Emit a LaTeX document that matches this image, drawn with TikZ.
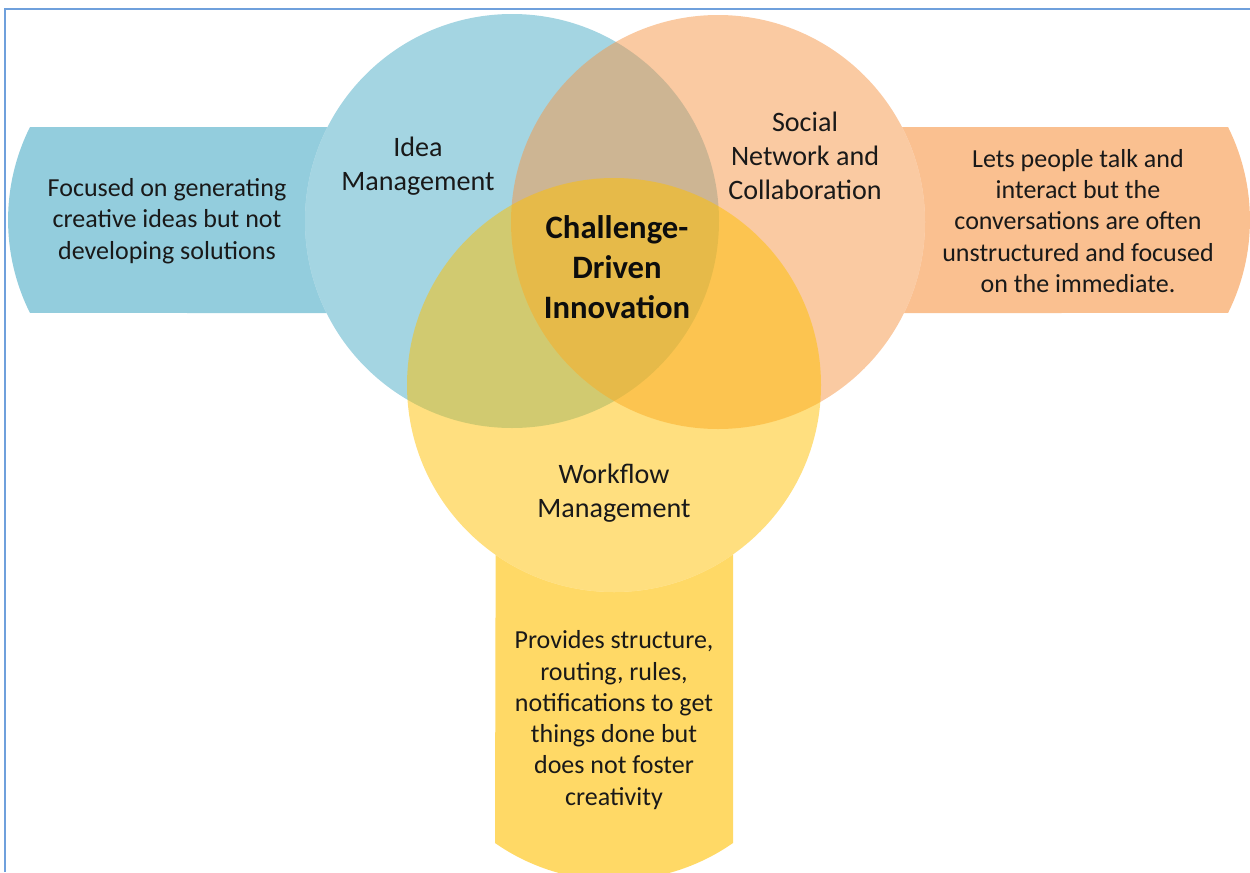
\documentclass[tikz,border=0pt]{standalone}
\usepackage{fontspec}
\setmainfont{Carlito}
\usepackage{xcolor}

\definecolor{ideablue}{RGB}{75,172,198}
\definecolor{socialorange}{RGB}{247,150,70}
\definecolor{flowgold}{RGB}{255,192,0}
\definecolor{framblue}{RGB}{111,160,220}

\begin{document}
\begin{tikzpicture}[x=0.02cm, y=-0.02cm,
  circ/.style={fill opacity=0.5},
  label/.style={align=center, text=black!90,
              font=\fontsize{16}{19.4}\selectfont},
  note/.style={align=center, text=black!90,
              font=\fontsize{14.8}{17.8}\selectfont},
  core/.style={align=center, text=black!95,
              font=\fontsize{18.6}{22.8}\selectfont\bfseries}
]
  \useasboundingbox (0,0) rectangle (1250,872);
  \clip (0,0) rectangle (1250,872);

  % frame
  \draw[framblue, line width=1.2pt] (5,872) -- (5,9) -- (1250,9);

  % side tabs behind the circles
  \fill[ideablue!60] (512,127) -- (30,127)
    arc[start angle=206.56, end angle=153.44, radius=208] -- (512,313) -- cycle;
  \fill[socialorange!60] (718,127) -- (1228,127)
    arc[start angle=-26.56, end angle=26.56, radius=208] -- (718,313) -- cycle;
  \fill[flowgold!60] (733,385) -- (733,843)
    arc[start angle=55.1, end angle=124.9, radius=208] -- (496,385) -- cycle;

  % the three sets
  \fill[white] (512,221) circle[radius=207] (718,222) circle[radius=207]
    (614,385) circle[radius=207];
  \fill[circ, ideablue]     (512,221) circle[radius=207];
  \fill[circ, socialorange] (718,222) circle[radius=207];
  \fill[circ, flowgold]     (614,385) circle[radius=207];

  % set names
  \node[label] (idea)   at (418,166) {Idea\\Management};
  \node[label] (social) at (805,156) {Social\\Network and\\Collaboration};
  \node[label] (flow)   at (614,493) {Workflow\\Management};
  \node[core]  (cdi)    at (617,267) {Challenge-\\Driven\\Innovation};

  % tab texts
  \node[note] (ideanote)   at (167,221)
    {Focused on generating\\creative ideas but not\\developing solutions};
  \node[note] (socialnote) at (1078,221)
    {Lets people talk and\\interact but the\\conversations are often\\unstructured and focused\\on the immediate.};
  \node[note] (flownote)   at (614,720)
    {Provides structure,\\routing, rules,\\notifications to get\\things done but\\does not foster\\creativity};
\end{tikzpicture}
\end{document}
